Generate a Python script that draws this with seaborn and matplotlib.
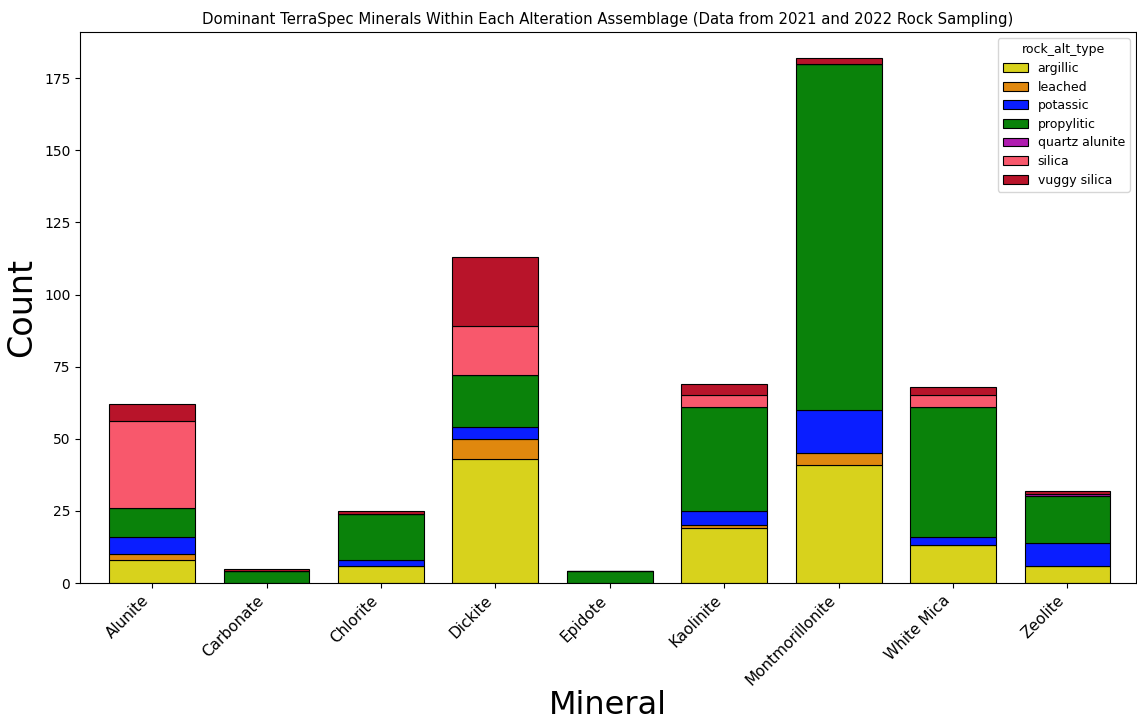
import matplotlib
matplotlib.use("Agg")
import matplotlib.pyplot as plt
import pandas as pd
import seaborn as sns

minerals = ["Alunite", "Carbonate", "Chlorite", "Dickite", "Epidote",
            "Kaolinite", "Montmorillonite", "White Mica", "Zeolite"]
alt_types = ["argillic", "leached", "potassic", "propylitic",
             "quartz alunite", "silica", "vuggy silica"]

# counts per mineral, one list per alteration type (same order as minerals)
argillic       = [8, 0, 6, 43, 0, 19, 41, 13, 6]
leached        = [2, 0, 0, 7, 0, 1, 4, 0, 0]
potassic       = [6, 0, 2, 4, 0, 5, 15, 3, 8]
propylitic     = [10, 4, 16, 18, 4, 36, 120, 45, 16]
quartz_alunite = [0, 0, 0, 0, 0, 0, 0, 0, 1]
silica         = [30, 0, 0, 17, 0, 4, 0, 4, 0]
vuggy_silica   = [6, 1, 1, 24, 0, 4, 2, 3, 1]

colors = ["#d8d21c", "#e0880e", "#0a1eff", "#0a820a",
          "#b01cb0", "#f8586c", "#b8142a"]

series = [argillic, leached, potassic, propylitic,
          quartz_alunite, silica, vuggy_silica]
rows = []
for alt, vals in zip(alt_types, series):
    for m, v in zip(minerals, vals):
        if v > 0:
            rows.append({"dominant_mineral": m, "rock_alt_type": alt, "n": v})
df = pd.DataFrame(rows)
df["dominant_mineral"] = pd.Categorical(df["dominant_mineral"], categories=minerals, ordered=True)

fig = plt.figure(figsize=(11.37, 7.21), dpi=100)
ax = fig.add_axes([0.0704, 0.1914, 0.9288, 0.7642])

# seaborn stacks the first hue level on top, so pass the order reversed
# to keep argillic at the base of each bar
sns.histplot(data=df, x="dominant_mineral", weights="n", hue="rock_alt_type",
             hue_order=alt_types[::-1], palette=dict(zip(alt_types, colors)),
             multiple="stack", shrink=0.75, edgecolor="black", linewidth=0.8,
             alpha=1, discrete=True, ax=ax)

ax.set_xlim(-0.63, 8.6)
ax.set_ylim(0, 191)
ax.set_title("Dominant TerraSpec Minerals Within Each Alteration Assemblage "
             "(Data from 2021 and 2022 Rock Sampling)", fontsize=10.7)
ax.set_xlabel("Mineral", fontsize=23)
ax.xaxis.set_label_coords(0.5, -0.195)
ax.set_ylabel("Count", fontsize=24)
ax.set_xticks(range(len(minerals)))
ax.set_xticklabels(minerals, rotation=45, ha="right", fontsize=11)
ax.tick_params(axis="y", labelsize=10)

old = ax.get_legend()
handles = list(old.legend_handles)[::-1]
labels = [t.get_text() for t in old.get_texts()][::-1]
old.remove()
ax.legend(handles, labels, title="rock_alt_type", loc="upper right",
          fontsize=9, title_fontsize=9, labelspacing=0.45)

fig.savefig("out.png", dpi=100)
